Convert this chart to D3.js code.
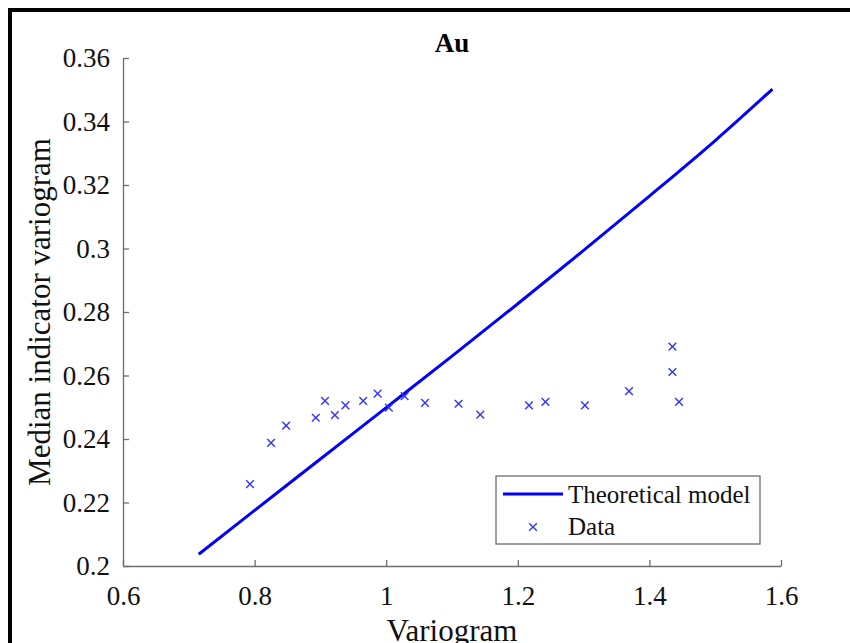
<!DOCTYPE html>
<html>
<head>
<meta charset="utf-8">
<script src="https://cdn.jsdelivr.net/npm/d3@7"></script>
<style>
  body { margin: 0; background: #fff; }
  svg { display: block; font-family: 'Liberation Serif', 'Times New Roman', serif; }
</style>
</head>
<body>
<svg width="850" height="643"></svg>
<script>
var svg = d3.select('svg')

// theoretical model curve
var modelX = [0.715, 0.80, 0.90, 1.00, 1.10, 1.20, 1.30, 1.40, 1.50, 1.587]
var modelY = [0.2037, 0.2175, 0.2337, 0.2499, 0.2661, 0.2826, 0.2994, 0.3165, 0.3340, 0.3502]

// data points
var dataX = [0.793, 0.825, 0.848, 0.893, 0.907, 0.922, 0.938, 0.965, 0.987, 1.004, 1.028,
  1.059, 1.110, 1.143, 1.217, 1.242, 1.302, 1.369, 1.435, 1.435, 1.445]
var dataY = [0.2258, 0.2388, 0.2442, 0.2467, 0.2520, 0.2475, 0.2506, 0.2520, 0.2543, 0.2499, 0.2535,
  0.2514, 0.2511, 0.2477, 0.2506, 0.2517, 0.2506, 0.2551, 0.2691, 0.2611, 0.2517]

var xTicks = [0.6, 0.8, 1, 1.2, 1.4, 1.6]
var yTicks = [0.2, 0.22, 0.24, 0.26, 0.28, 0.3, 0.32, 0.34, 0.36]

var x = d3.scaleLinear()
  .domain([0.6, 1.6])
  .range([123, 781])

var y = d3.scaleLinear()
  .domain([0.2, 0.36])
  .range([566, 58])

// outer frame
svg.append('rect')
  .attr('x', 10).attr('y', 10)
  .attr('width', 900).attr('height', 700)
  .style('fill', 'none')
  .style('stroke', '#000')
  .style('stroke-width', 4)

var axisColor = '#6e6e6e'
var tickFont = '27px'

var xAxis = svg.append('g')
  .attr('transform', 'translate(0,' + y(0.2) + ')')
  .call(d3.axisBottom(x).tickValues(xTicks).tickSizeInner(-6).tickSizeOuter(0).tickPadding(20)
    .tickFormat(d3.format('')))

var yAxis = svg.append('g')
  .attr('transform', 'translate(' + x(0.6) + ',0)')
  .call(d3.axisLeft(y).tickValues(yTicks).tickSizeInner(-6).tickSizeOuter(0).tickPadding(13)
    .tickFormat(d3.format('')))

;[xAxis, yAxis].forEach((g) => {
  g.select('.domain').style('stroke', axisColor).style('stroke-width', 1.3)
  g.selectAll('.tick line').style('stroke', axisColor).style('stroke-width', 1.3)
  g.selectAll('.tick text')
    .style('font-family', "'Liberation Serif', serif")
    .style('font-size', tickFont)
    .style('fill', '#111')
})

// title and axis labels
svg.append('text')
  .attr('x', (x(0.6) + x(1.6)) / 2)
  .attr('y', 52)
  .attr('text-anchor', 'middle')
  .style('font-size', '27px')
  .style('font-weight', 'bold')
  .text('Au')

svg.append('text')
  .attr('x', (x(0.6) + x(1.6)) / 2)
  .attr('y', 641)
  .attr('text-anchor', 'middle')
  .style('font-size', '31px')
  .style('fill', '#111')
  .text('Variogram')

svg.append('text')
  .attr('transform', 'translate(50,' + (y(0.2) + y(0.36)) / 2 + ') rotate(-90)')
  .attr('text-anchor', 'middle')
  .style('font-size', '31px')
  .style('fill', '#111')
  .text('Median indicator variogram')

// model line
var line = d3.line()
  .x((d) => x(d[0]))
  .y((d) => y(d[1]))
  .curve(d3.curveMonotoneX)

svg.append('path')
  .datum(d3.zip(modelX, modelY))
  .attr('d', line)
  .style('fill', 'none')
  .style('stroke', '#0000ff')
  .style('stroke-width', 3)

// cross markers
var cross = d3.symbol().type(d3.symbolX).size(40)

svg.append('g').selectAll('path')
  .data(d3.zip(dataX, dataY))
  .enter()
  .append('path')
  .attr('transform', (d) => 'translate(' + x(d[0]) + ',' + y(d[1]) + ')')
  .attr('d', cross)
  .style('fill', 'none')
  .style('stroke', '#3333ff')
  .style('stroke-width', 1.4)

// legend
var leg = svg.append('g')
leg.append('rect')
  .attr('x', 496).attr('y', 476)
  .attr('width', 264).attr('height', 68)
  .style('fill', '#fff')
  .style('stroke', axisColor)
  .style('stroke-width', 1.3)

leg.append('line')
  .attr('x1', 503).attr('x2', 563)
  .attr('y1', 494).attr('y2', 494)
  .style('stroke', '#0000ff')
  .style('stroke-width', 3)

leg.append('path')
  .attr('transform', 'translate(533,527)')
  .attr('d', cross)
  .style('fill', 'none')
  .style('stroke', '#3333ff')
  .style('stroke-width', 1.4)

leg.selectAll('text.lab')
  .data(['Theoretical model', 'Data'])
  .enter()
  .append('text')
  .attr('class', 'lab')
  .attr('x', 568)
  .attr('y', (d, i) => 503 + i * 32)
  .style('font-size', '25px')
  .style('fill', '#111')
  .text((d) => d)
</script>
</body>
</html>
